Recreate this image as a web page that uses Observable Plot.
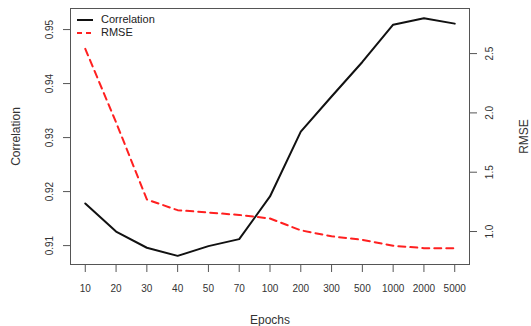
<!DOCTYPE html>
<html><head><meta charset="utf-8">
<script src="https://cdn.jsdelivr.net/npm/d3@7"></script>
<script src="https://cdn.jsdelivr.net/npm/@observablehq/plot@0.6"></script>
<style>
body{margin:0;background:#fff;font-family:"Liberation Sans",Arial,sans-serif;}
#wrap{position:relative;width:531px;height:326px;overflow:hidden;}
#legend{position:absolute;left:77px;top:13px;font-size:11px;color:#222;line-height:13px;}
#legend .row{display:flex;align-items:center;height:13px;}
#legend svg{margin-right:8px;}
</style></head><body><div id="wrap"><div id="legend"></div></div>
<script>
const epochs = ["10","20","30","40","50","70","100","200","300","500","1000","2000","5000"];
const correlation = [0.9178,0.9126,0.9096,0.9081,0.9099,0.9112,0.9191,0.9311,0.9376,0.9440,0.9509,0.9521,0.9511];
const rmse = [2.54,1.92,1.27,1.18,1.16,1.14,1.11,1.01,0.96,0.93,0.88,0.86,0.86];
const corrTicks = [0.91,0.92,0.93,0.94,0.95];
const rmseTicks = [1.0,1.5,2.0,2.5];
const seriesNames = ["Correlation","RMSE"];
const seriesColors = ["#111","#ff2020"];
const seriesDash = [null,"7,5"];

const corrDomain = [0.9065, 0.9539];
const rmseDomain = [0.722, 2.880];
const toCorr = d3.scaleLinear().domain(rmseDomain).range(corrDomain);

const chart = Plot.plot({
  width: 531, height: 326,
  marginLeft: 70, marginRight: 62, marginTop: 8, marginBottom: 62,
  style: {fontFamily: "Liberation Sans, Arial, sans-serif", fontSize: "10px", color: "#333", background: "white"},
  x: {type: "point", domain: epochs, padding: 0.48, round: false},
  y: {domain: corrDomain},
  marks: [
    Plot.frame({stroke: "#555"}),
    Plot.axisX({ticks: epochs, tickSize: 8, tickPadding: 12, stroke: "#555", fill: "#333",
      label: "Epochs", labelAnchor: "center", labelArrow: "none", fontSize: 10}),
    Plot.axisY({ticks: corrTicks, tickSize: 7, tickRotate: -90, tickPadding: 11, stroke: "#555", fill: "#333",
      tickFormat: d3.format(".2f"), label: "Correlation", labelAnchor: "center", labelArrow: "none", labelOffset: 59}),
    Plot.axisY({anchor: "right", ticks: rmseTicks.map(toCorr), tickSize: 7, tickRotate: -90, tickPadding: 9, lineAnchor: "top",
      stroke: "#555", fill: "#333",
      tickFormat: d => d3.format(".1f")(toCorr.invert(d)), label: "RMSE", labelAnchor: "center", labelArrow: "none", labelOffset: 58}),
    Plot.line(epochs, {x: d => d, y: (d, i) => toCorr(rmse[i]), stroke: seriesColors[1], strokeWidth: 2, strokeDasharray: seriesDash[1]}),
    Plot.line(epochs, {x: d => d, y: (d, i) => correlation[i], stroke: seriesColors[0], strokeWidth: 2})
  ]
});
document.getElementById("wrap").appendChild(chart);
chart.querySelectorAll("g[aria-label='y-axis label'] text, g[aria-label='x-axis label'] text").forEach(t => t.setAttribute("font-size", "12"));

const legend = document.getElementById("legend");
seriesNames.forEach((name, i) => {
  const row = document.createElement("div");
  row.className = "row";
  row.innerHTML = `<svg width="16" height="4"><line x1="0" x2="16" y1="2" y2="2" stroke="${seriesColors[i]}" stroke-width="2" ${seriesDash[i] ? `stroke-dasharray="5,4"` : ""}/></svg><span>${name}</span>`;
  legend.appendChild(row);
});
</script></body></html>
